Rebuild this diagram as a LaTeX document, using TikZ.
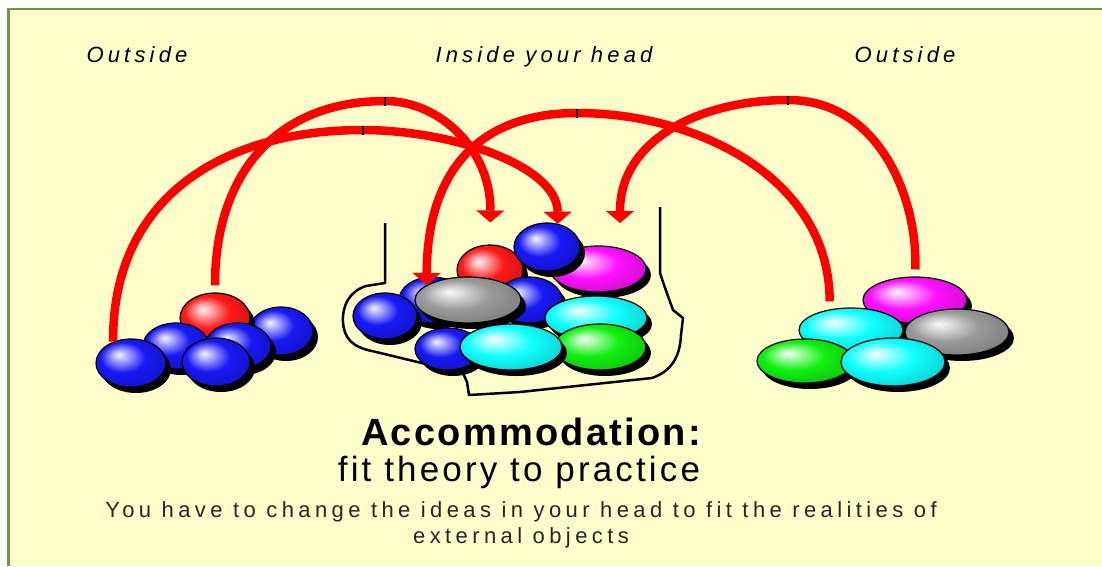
\documentclass[tikz,border=0pt]{standalone}
\usepackage{fontspec}
\setmainfont{Liberation Sans}
\usetikzlibrary{shapes.geometric,shadows,arrows.meta}

\definecolor{paper}{HTML}{FFFFCC}
\definecolor{framegreen}{HTML}{6E9A3C}
\definecolor{linkred}{HTML}{FF0000}
\definecolor{sred}{HTML}{FF1818}
\definecolor{sblue}{HTML}{1818F5}
\definecolor{smagenta}{HTML}{FF10FF}
\definecolor{scyan}{HTML}{10FFFF}
\definecolor{sgreen}{HTML}{10F010}
\definecolor{sgray}{HTML}{9A9A9A}

% glossy sphere shading: highlight up-left, darker rim
\newcommand{\makesphere}[2]{%
  \pgfdeclareradialshading{sphere#1}{\pgfpoint{-9bp}{9bp}}{%
    color(0bp)=(#2!4!white); color(6bp)=(#2!40!white);
    color(16bp)=(#2); color(28bp)=(#2!85!black); color(45bp)=(#2!65!black)}}
\makesphere{red}{sred}
\makesphere{blue}{sblue}
\makesphere{magenta}{smagenta}
\makesphere{cyan}{scyan}
\makesphere{green}{sgreen}
\makesphere{gray}{sgray}

\tikzset{
  sphere/.style={ellipse, inner sep=0pt, draw=black, line width=1.2pt,
    shading=sphere#1,
    drop shadow={shadow xshift=5pt, shadow yshift=-6pt, fill=black, opacity=1}},
  dims/.style 2 args={minimum width=#1, minimum height=#2},
  link/.style={draw=linkred, line width=8.5pt},
  tipped/.style={-{Triangle[width=28pt,length=12pt,line width=0.1pt]}},
  apexmark/.style={draw=black, line width=1.5pt},
  headline/.style={draw=black, line width=2.5pt, line join=round},
  zone/.style={anchor=base, inner sep=0pt,
    font=\fontsize{22}{24}\selectfont\itshape\addfontfeature{LetterSpace=19}},
  titletext/.style={anchor=base, inner sep=0pt,
    font=\fontsize{38}{40}\selectfont\bfseries\addfontfeature{LetterSpace=6}},
  subtitletext/.style={anchor=base, inner sep=0pt,
    font=\fontsize{35}{38}\selectfont\addfontfeature{LetterSpace=9}},
  note/.style={anchor=base, inner sep=0pt, text=black!85,
    font=\fontsize{22}{24}\selectfont\addfontfeature{LetterSpace=20}},
}

\begin{document}
\begin{tikzpicture}[x=1pt,y=-1pt]
% page and frame
\useasboundingbox (0,0) rectangle (1102,566);
\fill[white] (0,0) rectangle (1102,566);
\fill[paper] (8.5,9) rectangle (1102,566);
\draw[framegreen, line width=2.5pt] (8.5,566) -- (8.5,9) -- (1102,9);

% headings
\node[zone] (outL) at (137,62) {Outside};
\node[zone] (inside) at (544,62) {Inside your head};
\node[zone] (outR) at (905,62) {Outside};

% the head
\draw[headline] (385,223) -- (385,283) -- (366,286)
  .. controls (350,291) and (342,305) .. (343,322)
  .. controls (344,338) and (352,347) .. (372,351)
  -- (463,373) -- (467,382) -- (469,395) -- (520,392) -- (652,378)
  .. controls (672,371) and (680,356) .. (681,335)
  -- (683,318) -- (673,310) -- (664,285) -- (660,273) -- (660,207);

% left cluster (outside)
\node[sphere=blue, dims={64}{48}] (lbr) at (281,331) {};
\node[sphere=red,  dims={70}{50}] (lred) at (215,318) {};
\node[sphere=blue, dims={66}{46}] (lml) at (176,346) {};
\node[sphere=blue, dims={66}{46}] (lmr) at (238,346) {};
\node[sphere=blue, dims={70}{48}] (lfl) at (131,363) {};
\node[sphere=blue, dims={68}{48}] (lfm) at (216,362) {};

% middle cluster (inside the head)
\node[sphere=red,     dims={66}{50}]  (mred) at (490,270) {};
\node[sphere=magenta, dims={96}{46}]  (mmag) at (598,269) {};
\node[sphere=blue,    dims={66}{48}]  (mtop) at (547,247) {};
\node[sphere=blue,    dims={66}{46}]  (mbl)  at (432,300) {};
\node[sphere=blue,    dims={66}{46}]  (mbr)  at (529,300) {};
\node[sphere=gray,    dims={106}{46}] (mgray) at (468,300) {};
\node[sphere=blue,    dims={64}{46}]  (mfl)  at (385,316) {};
\node[sphere=blue,    dims={66}{42}]  (mbot) at (448,349) {};
\node[sphere=cyan,    dims={102}{44}] (mcyu) at (596,318) {};
\node[sphere=green,   dims={92}{46}]  (mgrn) at (600,347) {};
\node[sphere=cyan,    dims={102}{46}] (mcyb) at (511,347) {};

% right cluster (outside)
\node[sphere=magenta, dims={104}{46}] (rmag) at (915,300) {};
\node[sphere=cyan,    dims={104}{44}] (rcb)  at (851,330) {};
\node[sphere=gray,    dims={104}{46}] (rgray) at (957,332) {};
\node[sphere=green,   dims={96}{44}]  (rgrn) at (805,361) {};
\node[sphere=cyan,    dims={104}{48}] (rcf)  at (893,362) {};

% arc apexes and a free arrow end
\coordinate (apexA) at (363,130);
\coordinate (apexB) at (385,101);
\coordinate (apexC) at (577,113);
\coordinate (apexD) at (788,100);
\coordinate (dropD) at (620,223);

% red links
\draw[link,tipped] (lfl.130)
  .. controls (112,200) and (220,130) .. (apexA)
  .. controls (450,130) and (557,165) .. (mtop.65);
\draw[link,tipped,shorten <=7pt,shorten >=22pt] (lred.north)
  .. controls (215,170) and (280,101) .. (apexB)
  .. controls (440,101) and (491,150) .. (mred.north);
\draw[link,tipped,shorten <=8pt] (rcb.136)
  .. controls (830,180) and (700,113) .. (apexC)
  .. controls (480,113) and (427,170) .. (mgray.160);
\draw[link,tipped,shorten <=7pt] (rmag.north)
  .. controls (918,200) and (880,100) .. (apexD)
  .. controls (700,100) and (620,140) .. (dropD);

% joints at the top of each arc
\foreach \p in {apexA,apexB,apexC,apexD}
  \draw[apexmark] (\p) ++(0,-4.5) -- ++(0,9);

% captions
\node[titletext] (title) at (531,445) {Accommodation:};
\node[subtitletext] (sub) at (519,481) {fit theory to practice};
\node[note] (note1) at (521,517) {You have to change the ideas in your head to fit the realities of};
\node[note] (note2) at (521,543) {external objects};
\end{tikzpicture}
\end{document}
